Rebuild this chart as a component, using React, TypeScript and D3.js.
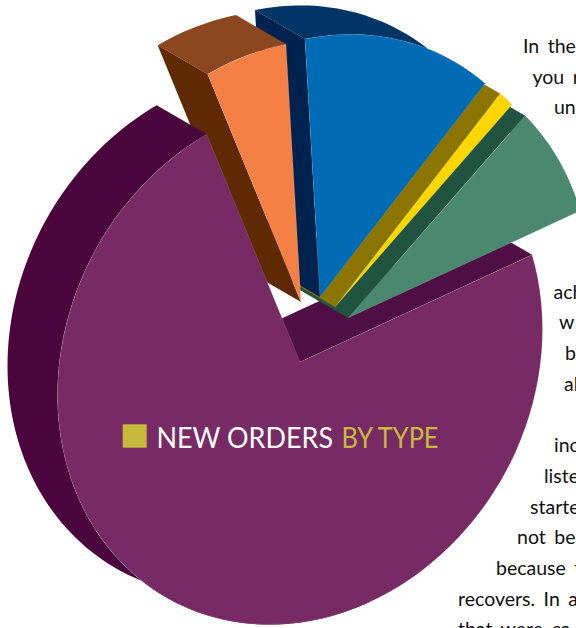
import React from "react";
import * as d3 from "d3";

// Order types are not named in the picture: slices are identified by their colour family.
const sliceKeys = ["plum", "orange", "blue", "gold", "green"];
const sliceShares = [73.4, 5.3, 12.9, 1.1, 7.3];
const faceColors = ["#772a64", "#f58045", "#006bb5", "#ffd700", "#4a8870"];
const rimColors = ["#4a063c", "#8b4820", "#003566", "#8b7500", "#215341"];
const wallColors = ["#500f44", "#5f2a03", "#00224f", "#8b7500", "#215341"];
const explodeX = [0, 1, 20, 35, 48];
const explodeY = [0, -60, -65, -55, -44];

const legendLead = "NEW ORDERS";
const legendTail = "BY TYPE";

const bodyLines = [
  "In the", "you r", "un", "ach", "w", "b", "al", "inc", "liste", "starte", "not be", "because t", "recovers. In a", "that were ca",
];
const bodyRows = [0, 1, 2, 8, 9, 10, 11, 13, 14, 15, 16, 17, 18, 19];
const bodyStartX = [523, 532.5, 554, 553.5, 559, 565, 564, 554, 544, 530, 517, 496, 458, 458];

const W = 576;
const H = 628;
const cx = 300;
const cy = 362;
const ax = 242.5;
const bx = -33;
const dy = 260.5;
const depthX = -50;
const depthY = -29;

const pieGen = d3
  .pie<number>()
  .sort(null)
  .startAngle((73.13 * Math.PI) / 180)
  .endAngle((73.13 * Math.PI) / 180 + 2 * Math.PI);
const arcs = pieGen(sliceShares);
const arcGen = d3.arc<any>().innerRadius(0).outerRadius(1);
const poly = d3.line<[number, number]>().curve(d3.curveLinearClosed);

const rimPoint = (a: number, ox: number, oy: number): [number, number] => {
  const t = a - Math.PI / 2;
  return [ox + ax * Math.cos(t), oy + bx * Math.cos(t) + dy * Math.sin(t)];
};

const edge = "rgba(255,255,255,0.22)";

function Slice({ i, parts, rimFrom = 0 }: { i: number; parts: string[]; rimFrom?: number }) {
  const ox = cx + explodeX[i];
  const oy = cy + explodeY[i];
  const { startAngle, endAngle } = arcs[i];
  const rimStart = startAngle + rimFrom;
  const n = Math.max(8, Math.ceil((endAngle - rimStart) * 40));
  const samples = d3.range(n + 1).map((k) => rimStart + ((endAngle - rimStart) * k) / n);
  const front = samples.map((a) => rimPoint(a, ox, oy));
  const back = samples.map((a) => rimPoint(a, ox + depthX, oy + depthY)).reverse();
  const apex: [number, number] = [ox, oy];
  const apexB: [number, number] = [ox + depthX, oy + depthY];
  const first = rimPoint(startAngle, ox, oy);
  const wall: [number, number][] = [apex, first, [first[0] + depthX, first[1] + depthY], apexB];
  return (
    <g data-slice={sliceKeys[i]}>
      {parts.includes("rim") && (
        <path d={poly([...front, ...back]) || ""} fill={rimColors[i]} />
      )}
      {parts.includes("wall") && (
        <path d={poly(wall) || ""} fill={wallColors[i]} />
      )}
      {parts.includes("face") && (
        <path
          d={arcGen(arcs[i]) || ""}
          transform={`matrix(${ax},${bx},0,${dy},${ox},${oy})`}
          fill={faceColors[i]}
          stroke={edge}
          strokeWidth={0.5}
          vectorEffect="non-scaling-stroke"
        />
      )}
    </g>
  );
}

export default function App() {
  return (
    <svg
      width={W}
      height={H}
      viewBox={`0 0 ${W} ${H}`}
      style={{ position: "absolute", left: 0, top: 0, background: "#fff" }}
    >
      <g fontFamily="Lato, sans-serif" fontSize={19.5} fill="#111" wordSpacing={3.5}>
        {bodyLines.map((line, i) => (
          <text key={line} x={bodyStartX[i]} y={53 + 30.7 * bodyRows[i]}>
            {line}
          </text>
        ))}
      </g>
      <Slice i={0} parts={["wall"]} />
      <Slice i={4} parts={["rim", "wall", "face"]} />
      <Slice i={3} parts={["rim", "wall", "face"]} />
      <Slice i={2} parts={["rim", "wall", "face"]} />
      <Slice i={1} parts={["rim", "wall", "face"]} />
      <Slice i={0} parts={["rim", "face"]} rimFrom={Math.PI / 2} />
      <rect x={122.7} y={424.3} width={24} height={23.4} fill="#c8ba3f" />
      <g fontFamily="Lato, sans-serif" fontSize={28}>
        <text x={156.5} y={448} fill="#fff" textLength={176.5} lengthAdjust="spacingAndGlyphs">
          {legendLead}
        </text>
        <text x={341.5} y={448} fill="#c8ba3f" textLength={97} lengthAdjust="spacingAndGlyphs">
          {legendTail}
        </text>
      </g>
    </svg>
  );
}
